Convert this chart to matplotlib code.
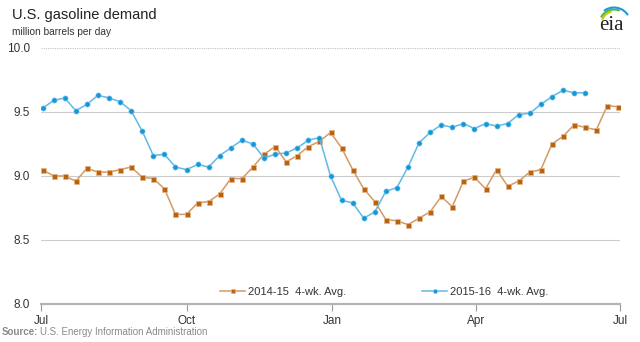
import matplotlib
matplotlib.use("Agg")
import matplotlib.pyplot as plt
import numpy as np
import pandas as pd

plt.rcParams["font.family"] = ["Liberation Sans", "DejaVu Sans"]

# weekly 4-week average gasoline demand, million barrels per day
demand_2014_15 = [
    9.05, 9.00, 9.00, 8.96, 9.06, 9.03, 9.03, 9.05, 9.07, 8.99,
    8.98, 8.90, 8.70, 8.70, 8.79, 8.80, 8.86, 8.98, 8.98, 9.07,
    9.17, 9.23, 9.11, 9.16, 9.23, 9.27, 9.34, 9.22, 9.05, 8.90,
    8.80, 8.66, 8.65, 8.62, 8.67, 8.72, 8.84, 8.76, 8.96, 8.99,
    8.90, 9.05, 8.92, 8.96, 9.03, 9.05, 9.25, 9.31, 9.40, 9.38,
    9.36, 9.55, 9.54,
]
demand_2015_16 = [
    9.53, 9.59, 9.61, 9.51, 9.56, 9.63, 9.61, 9.58, 9.51, 9.35,
    9.16, 9.17, 9.07, 9.05, 9.09, 9.07, 9.16, 9.22, 9.28, 9.25,
    9.14, 9.17, 9.18, 9.22, 9.28, 9.30, 9.00, 8.81, 8.79, 8.67,
    8.72, 8.88, 8.91, 9.07, 9.26, 9.34, 9.40, 9.38, 9.41, 9.37,
    9.41, 9.39, 9.41, 9.48, 9.49, 9.56, 9.62, 9.67, 9.65, 9.65,
]
series_labels = ["2014-15  4-wk. Avg.", "2015-16  4-wk. Avg."]
tick_dates = ["2015-07-01", "2015-10-01", "2016-01-01", "2016-04-01", "2016-07-01"]
tick_labels = ["Jul", "Oct", "Jan", "Apr", "Jul"]
y_ticks = [8.0, 8.5, 9.0, 9.5, 10.0]

# both seasons share one Jul-Jul calendar
weeks_a = pd.date_range("2015-07-02", periods=len(demand_2014_15), freq="7D")
weeks_b = pd.date_range("2015-07-02", periods=len(demand_2015_16), freq="7D")

fig = plt.figure(figsize=(6.4, 3.42), dpi=100)
ax = fig.add_axes([41 / 640, 1 - 304 / 342, 579 / 640, 256 / 342])

ax.plot(weeks_a, demand_2014_15, color="#d49a63", lw=1.1, marker="s", ms=3.6,
        mfc="#bb620f", mec="#e2b68a", mew=0.5, label=series_labels[0], zorder=3)
ax.plot(weeks_b, demand_2015_16, color="#62b9e6", lw=1.1, marker="o", ms=3.8,
        mfc="#1497d8", mec="#8fcdee", mew=0.4, label=series_labels[1], zorder=3)

ticks = pd.to_datetime(tick_dates)
ax.set_xlim(ticks[0], ticks[-1])
ax.set_xticks(ticks)
ax.set_xticklabels(tick_labels)
ax.set_ylim(8.0, 10.0)
ax.set_yticks(y_ticks)
ax.set_yticklabels([f"{v:.1f}" for v in y_ticks])

for v in y_ticks[1:-1]:
    ax.axhline(v, color="#cccccc", lw=0.8, zorder=1)
ax.axhline(10.0, color="#c4c4c4", lw=0.8, ls=(0, (1, 1)), zorder=1)

for side in ["top", "right", "left"]:
    ax.spines[side].set_visible(False)
ax.spines["bottom"].set_color("#b4b4b4")
ax.spines["bottom"].set_linewidth(1.6)
ax.tick_params(axis="x", length=5, width=0.8, color="#999999", pad=3,
               labelsize=8.5, labelcolor="#333333")
ax.tick_params(axis="y", length=0, pad=8, labelsize=8.5, labelcolor="#333333")

ax.legend(loc="center left", bbox_to_anchor=(0.309, 0.047), ncol=2, frameon=False,
          fontsize=8, handlelength=2.3, handletextpad=0.2, columnspacing=6.85,
          borderpad=0, borderaxespad=0, markerscale=0.8, labelcolor="#333333")

fig.text(12 / 640, 1 - 15 / 342, "U.S. gasoline demand", fontsize=10.5,
         color="#222222", va="center")
fig.text(12 / 640, 1 - 32 / 342, "million barrels per day", fontsize=7.3,
         color="#333333", va="center")

src = fig.text(2 / 640, 1 - 332 / 342, "Source:", fontsize=7, color="#8a8a8a",
               fontweight="bold", va="center")
fig.canvas.draw()
bb = src.get_window_extent()
fig.text((bb.x1 + 2) / 640, 1 - 332 / 342, "U.S. Energy Information Administration",
         fontsize=7, color="#8a8a8a", va="center")

# eia logo: wordmark with three swooshes above it
logo = fig.add_axes([590 / 640, 1 - 38 / 342, 45 / 640, 38 / 342])
logo.set_xlim(0, 45)
logo.set_ylim(0, 38)
logo.axis("off")
logo.text(21, 8, "eia", family=["Liberation Serif", "DejaVu Serif"], fontsize=15,
          ha="center", va="baseline", color="#222222")
for r, col, a0, a1 in [(12.5, "#c6d300", 105, 158), (14.5, "#56b447", 70, 150),
                       (16.5, "#1e9ad6", 35, 125)]:
    t = np.radians(np.linspace(a0, a1, 40))
    logo.plot(24 + r * np.cos(t), 14 + r * np.sin(t), color=col, lw=1.5,
              solid_capstyle="round")

fig.savefig("out.png", dpi=100)
